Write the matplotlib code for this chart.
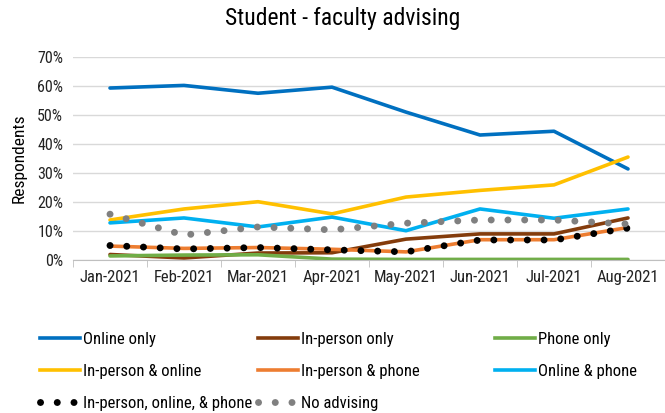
import numpy as np
import matplotlib.pyplot as plt
from matplotlib.lines import Line2D

plt.rcParams['font.family'] = ['Roboto Condensed', 'Liberation Sans Narrow', 'Roboto', 'DejaVu Sans']

months = ["Jan-2021", "Feb-2021", "Mar-2021", "Apr-2021",
          "May-2021", "Jun-2021", "Jul-2021", "Aug-2021"]

online_only = [59.3, 60.2, 57.5, 59.6, 51.0, 43.1, 44.4, 31.4]
inperson_only = [1.9, 0.7, 2.4, 2.5, 7.2, 9.0, 9.0, 14.5]
phone_only = [1.4, 1.7, 1.8, 0.3, 0.2, 0.2, 0.2, 0.2]
inperson_online = [13.8, 17.6, 20.1, 15.9, 21.7, 24.0, 25.9, 35.5]
inperson_phone = [4.8, 4.0, 4.3, 3.7, 2.8, 7.0, 7.0, 11.2]
online_phone = [12.8, 14.5, 11.4, 14.8, 10.1, 17.6, 14.4, 17.6]
inperson_online_phone = [5.0, 3.8, 4.3, 3.5, 2.8, 6.9, 6.9, 11.0]
no_advising = [15.8, 8.6, 11.4, 10.4, 12.7, 13.8, 13.8, 12.4]

labels = ["Online only", "In-person only", "Phone only",
          "In-person & online", "In-person & phone", "Online & phone",
          "In-person, online, & phone", "No advising"]
colors = ["#0070c0", "#843c0c", "#70ad47", "#ffc000", "#ed7d31", "#00b0f0",
          "#000000", "#808080"]

fig = plt.figure(figsize=(6.65, 4.13), dpi=100)
ax = fig.add_axes([73 / 665, 1 - 260 / 413, 592 / 665, 203 / 413])

x = np.arange(len(months))
series = [online_only, inperson_only, phone_only, inperson_online,
          inperson_phone, online_phone, inperson_online_phone, no_advising]

handles = []
for i, (ys, lab, c) in enumerate(zip(series, labels, colors)):
    ys = np.array(ys) / 100
    if i >= 6:
        ln, = ax.plot(x, ys, color=c, lw=5, linestyle=(0, (0.01, 2.4)),
                      dash_capstyle="round", label=lab, zorder=3)
    else:
        ln, = ax.plot(x, ys, color=c, lw=2.6, solid_capstyle="round",
                      label=lab, zorder=2)
    handles.append(ln)

ax.set_xlim(-0.5, len(months) - 0.5)
ax.set_ylim(0, 0.7)
ax.set_yticks(np.arange(0, 0.71, 0.1))
ax.set_yticklabels([f"{int(round(v * 100))}%" for v in np.arange(0, 0.71, 0.1)],
                   fontsize=11.5, color="#222222")
ax.set_xticks(x)
ax.set_xticklabels(months, fontsize=12, color="#222222")
ax.set_xticks(np.arange(-0.5, len(months), 1), minor=True)
ax.tick_params(axis="x", which="major", length=0, pad=7)
ax.tick_params(axis="x", which="minor", length=5, color="#bfbfbf")
ax.tick_params(axis="y", length=0, pad=7)
ax.grid(axis="y", color="#d9d9d9", lw=1)
ax.set_axisbelow(True)
for s in ["top", "right", "left"]:
    ax.spines[s].set_visible(False)
ax.spines["bottom"].set_color("#bfbfbf")
ax.set_ylabel("Respondents", fontsize=12.5, labelpad=8)

fig.text(343 / 665, 1 - 19 / 413, "Student - faculty advising",
         ha="center", va="center", fontsize=17)

# legend columns placed like the original (row-major)
col_x = [40 / 665, 258 / 665, 495 / 665]
for k in range(3):
    idx = [k, k + 3, k + 6]
    idx = [j for j in idx if j < len(handles)]
    hs = []
    for j in idx:
        if j >= 6:
            hs.append(Line2D([], [], color=colors[j], lw=5,
                             linestyle=(0, (0.01, 2.4)), dash_capstyle="round"))
        else:
            hs.append(Line2D([], [], color=colors[j], lw=2.6))
    fig.legend(hs, [labels[j] for j in idx], loc="upper left",
               bbox_to_anchor=(col_x[k], 1 - 332 / 413), frameon=False,
               fontsize=12, handlelength=2.4, handletextpad=0.2,
               labelspacing=1.02, borderaxespad=0, borderpad=0)

fig.savefig("out.png", dpi=100)
